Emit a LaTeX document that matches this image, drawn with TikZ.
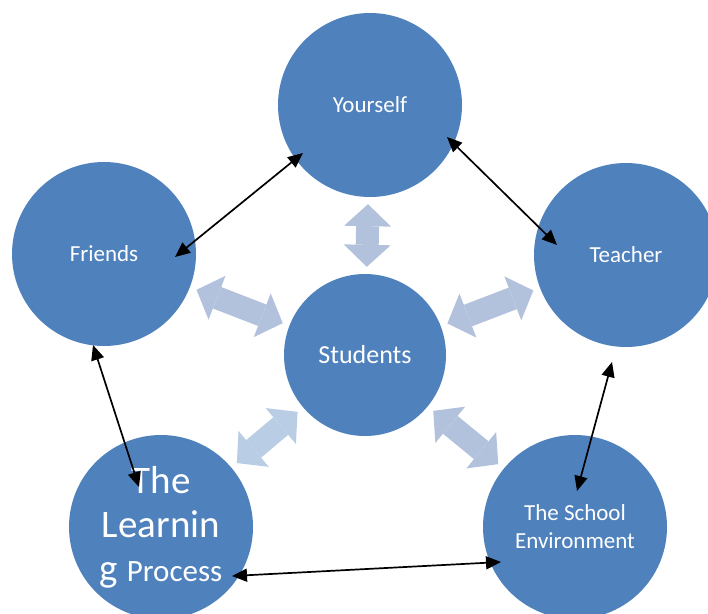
\documentclass[tikz,border=0pt]{standalone}
\usepackage{fontspec}
\setmainfont{Carlito}
\usetikzlibrary{arrows.meta, calc}

\definecolor{circleblue}{HTML}{4F81BD}
\definecolor{linkblue}{HTML}{B3C2DC}
\definecolor{linkpale}{HTML}{B9CDE5}

\tikzset{
  topic/.style={circle, fill=circleblue, text=white, minimum size=184pt, inner sep=0pt, align=center, font=\fontsize{23}{28}\selectfont},
  link/.style={line width=23pt, draw=linkblue, {Triangle[length=22pt,width=47pt,line width=0pt]}-{Triangle[length=22pt,width=47pt,line width=0pt]}, shorten <=7pt, shorten >=7pt},
  pair/.style={<->, line width=1.7pt},
}

\begin{document}
\begin{tikzpicture}[x=1pt, y=-1pt, >={Triangle[length=15pt,width=13pt]}]
    \useasboundingbox (0,0) rectangle (708,613);
    \clip (0,0) rectangle (708,613);
    \node (students) [topic, minimum size=162pt, font=\fontsize{26}{30}\selectfont] at (365,355) {Students};
    \node (yourself) [topic] at (370,105) {Yourself};
    \node (friends) [topic] at (104,254) {Friends};
    \node (teacher) [topic] at (626,255) {Teacher};
    \node (learning) [topic, font=\fontsize{39}{44}\selectfont] at (161,527) {The\\Learnin\\g {\fontsize{31}{44}\selectfont Process}};
    \node (school) [topic] at (575,527) {The School\\Environment};

    % students to the others
    \draw [link] (students) -- (yourself);
    \draw [link] (students) -- (friends);
    \draw [link] (students) -- (teacher);
    \draw [link, draw=linkpale] (students) -- (learning);
    \draw [link] (students) -- (school);

    % round the outside
    \draw [pair] ($(yourself)+(-67,48)$) -- ($(friends)+(71,3)$);
    \draw [pair] ($(yourself)+(77,32)$) -- ($(teacher)+(-69,-10)$);
    \draw [pair] ($(friends)+(-11,91)$) -- ($(learning)+(-22,-40)$);
    \draw [pair] ($(teacher)+(-14,107)$) -- ($(school)+(2,-36)$);
    \draw [pair] ($(learning)+(71,49)$) -- ($(school)+(-74,35)$);
\end{tikzpicture}
\end{document}
